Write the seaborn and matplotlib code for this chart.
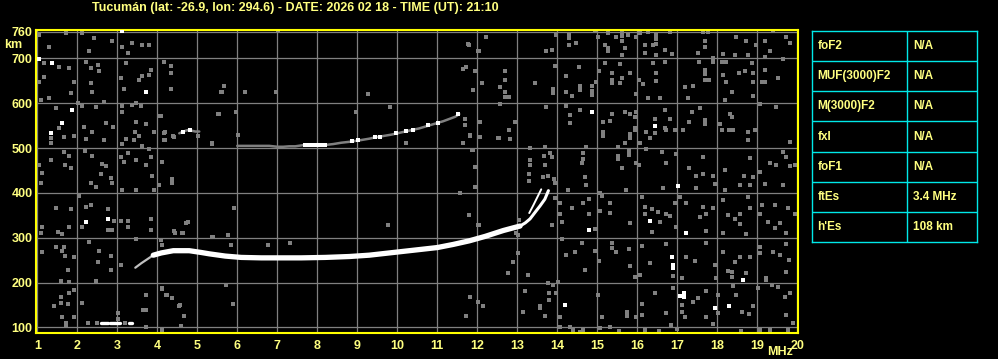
import matplotlib
matplotlib.use("Agg")
import matplotlib.pyplot as plt
import seaborn as sns
import pandas as pd

# ---------------- data ----------------
title = "Tucumán (lat: -26.9, lon: 294.6) - DATE: 2026 02 18 - TIME (UT): 21:10"
x_ticks = list(range(1, 21))
y_ticks = [100, 200, 300, 400, 500, 600, 700, 760]

# main (thick) echo trace, MHz / km
trace_f = [3.9, 4.1, 4.4, 4.8, 5.1, 5.3, 5.7, 6.1, 6.6, 7.0, 7.6, 8.2, 8.8, 9.3, 9.8,
           10.1, 10.5, 11.0, 11.4, 11.8, 12.2, 12.65, 12.9, 13.07]
trace_h = [261, 266, 271, 271, 267, 264, 259, 256, 255, 255, 255, 256, 258, 261, 266,
           269, 273, 278, 285, 293, 303, 316, 322, 326]
# thin upper end of the trace
tip_f = [13.07, 13.2, 13.32, 13.44, 13.57, 13.69, 13.78]
tip_h = [326, 333, 342, 356, 371, 386, 405]
# second thin branch near the cusp
branch_f = [13.3, 13.4, 13.5, 13.6]
branch_h = [355, 372, 390, 408]
# faint start of the trace
tail_f = [3.45, 3.6, 3.75, 3.9]
tail_h = [233, 243, 252, 261]

# upper (F) weak trace
f2_f = [4.55, 4.65, 4.75, 4.85, 4.95, 5.05]
f2_h = [533, 537, 540, 539, 537, 537]
f3_f = [6.0, 6.2, 6.45, 6.8, 7.0, 7.15, 7.3, 7.45, 7.6, 7.75, 7.9, 8.05, 8.2, 8.4, 8.6,
        8.8, 8.95, 9.1, 9.3, 9.45, 9.65, 9.85, 10.0, 10.2, 10.4, 10.55, 10.7, 10.85,
        11.0, 11.15, 11.3, 11.45, 11.55]
f3_h = [505, 505, 505, 505, 503, 503, 504, 504, 506, 508, 508, 508, 507, 509, 512,
        514, 516, 518, 521, 524, 527, 530, 533, 537, 541, 544, 548, 552,
        556, 560, 565, 570, 576]
fbright_f = [4.65, 4.82, 7.7, 7.8, 7.9, 8.0, 8.1, 8.2, 8.86, 9.03, 9.44, 9.57, 9.98,
             10.23, 10.4, 10.77, 11.03, 11.53]
fbright_h = [537, 540, 508, 508, 508, 508, 508, 508, 516, 518, 525, 525, 533,
             539, 540, 552, 557, 576]

# sporadic-E dashes near 110 km
es_start = [2.59, 2.83, 3.29]
es_end = [2.77, 3.06, 3.38]
es_height = [110, 110, 110]
es_faint_f = [2.50, 3.20]
es_faint_h = [110, 110]

# scattered gray noise (MHz, km)
noise_f = [
    1.05, 1.30, 1.72, 2.13, 2.43, 2.30, 2.88, 3.13, 3.38, 3.63, 3.80, 3.26, 1.55, 1.18, 1.80,
    2.22, 2.51, 2.55, 2.34, 3.22, 3.09, 3.18, 3.55, 3.63, 3.80, 3.84, 4.18, 4.34, 4.34, 4.34,
    5.59, 5.68, 1.05, 1.18, 1.93, 2.34, 2.38, 1.84, 1.30, 1.09, 1.47, 2.01, 2.13, 2.47, 2.68,
    3.13, 3.13, 3.38, 3.47, 3.59, 4.09, 5.55, 1.55, 1.34, 1.34, 1.68, 1.93, 2.22, 2.38, 2.73,
    2.90, 2.68, 2.18, 3.47, 3.45, 3.55, 3.72, 3.93, 3.12, 3.22, 3.43, 3.63, 4.18, 4.18, 4.43,
    5.38, 5.03, 1.05, 1.13, 1.34, 1.68, 1.80, 1.70, 1.84, 2.20, 2.38, 2.63, 2.73, 2.59, 2.84,
    3.09, 3.26, 3.18, 3.47, 3.72, 3.84, 3.80, 3.88, 4.13, 4.38,
    1.09, 1.47, 1.84, 2.05, 2.22, 2.34, 2.13, 2.78, 2.78, 2.93, 3.09, 3.28, 3.28, 3.47, 3.84,
    3.84, 4.05, 4.09, 4.13, 1.13, 1.09, 1.51, 1.63, 1.80, 1.47, 1.68, 1.63, 1.93, 1.70, 1.13,
    2.30, 2.55, 2.84, 2.84, 3.09, 1.76, 1.59, 1.80, 1.93, 1.80, 1.59, 1.59, 1.76, 1.43, 1.63,
    1.73, 1.73, 1.93, 2.12, 2.48, 2.51, 2.28, 3.03, 3.03, 3.73, 3.72, 3.72, 4.13, 4.24, 4.38,
    4.55, 4.68, 4.59, 4.13, 4.76, 4.43, 4.63, 5.38, 5.78, 5.84, 5.93, 5.73, 5.89, 4.38, 3.13,
    3.47, 3.93, 2.34, 2.88, 2.48, 2.88,
    9.78, 12.03, 12.90, 12.78, 13.28, 11.82, 12.03, 13.19, 13.15, 13.78, 13.57, 12.15, 11.73,
    5.90, 4.13, 4.23, 4.38, 4.57, 3.65, 7.32, 6.78, 5.78, 5.40, 4.73, 4.44, 4.65, 13.03, 12.98,
    5.61, 6.19, 6.98, 9.27, 9.83, 11.90, 12.53, 12.07, 11.69, 11.69, 11.82, 11.90, 10.23, 8.97,
    5.53, 5.38, 4.07, 4.19, 4.19, 4.40, 5.98, 6.02, 7.02, 11.77, 12.02, 12.23,
    12.23, 11.80, 12.05, 11.65, 11.73, 11.94, 12.69, 12.69, 12.13, 12.58, 12.69, 12.69, 12.80,
    13.44, 11.90, 12.58, 12.08, 12.94, 12.80, 11.83, 12.08, 12.55, 12.83, 11.65, 11.88, 11.94,
    13.33, 13.33, 13.33, 13.30, 13.30, 13.65, 13.67, 11.58, 11.94, 11.80, 12.05, 13.03, 13.05,
    13.98, 14.30, 14.30, 14.30, 14.48, 13.73, 13.88, 14.94, 15.03, 15.28, 15.28, 15.28, 15.47,
    15.63, 15.63, 15.63, 15.78, 15.98, 15.61, 15.69, 15.19, 16.07, 16.28, 16.48, 16.48, 16.48,
    16.19, 16.40, 16.19, 16.48, 16.82, 16.69, 16.86, 17.65, 17.78, 17.69, 17.69, 17.53, 17.90,
    18.15, 18.48, 18.73, 18.44, 18.78, 18.98, 19.19, 19.40, 19.73, 19.83, 19.32, 19.19, 13.94,
    14.23, 14.55, 13.90, 13.90, 14.23, 14.38, 14.58, 14.58, 14.88, 14.88, 14.88, 14.98, 15.05,
    15.19, 15.38, 15.38, 15.38, 15.58, 15.58, 15.63, 15.83, 15.98, 16.05, 16.15, 16.40, 16.48,
    16.48, 16.69, 16.28, 16.58, 17.19, 17.40, 17.28, 17.55, 17.69, 17.69, 17.69, 17.80, 17.90,
    18.11, 18.23, 18.15, 18.23, 18.55, 18.69, 18.88, 18.90, 18.90, 19.11, 19.19, 19.19, 19.53,
    19.65, 18.90, 18.36, 18.19, 13.73, 14.23, 14.58, 14.33, 14.33, 15.15, 15.15, 15.15, 15.33,
    15.36, 15.69, 15.83, 15.94, 15.94, 15.94, 15.98, 15.69, 15.83, 15.83, 16.08, 16.23, 16.32,
    16.44, 16.44, 16.69, 16.69, 16.73, 16.83, 16.94, 17.15, 17.29, 17.36, 17.58, 17.69, 17.69,
    18.07, 18.11, 18.32, 18.38, 18.30, 18.40, 18.78, 18.78, 18.94, 19.08, 19.48, 19.83, 14.72,
    14.65, 14.65, 14.63, 13.69, 13.82, 13.86, 13.69, 13.78, 13.92, 14.69, 15.53, 15.53, 15.53,
    15.80, 15.80, 15.61, 15.98, 16.05, 16.23, 16.61, 16.73, 16.98, 17.30, 17.48, 17.65, 17.65,
    17.90, 18.19, 18.67, 18.83, 18.90, 19.08, 19.32, 19.48, 19.72, 19.65, 19.83, 19.94,
    13.94, 14.28, 14.73, 15.07, 15.11, 15.72, 16.65, 17.48, 17.94, 18.19, 18.57, 18.82, 19.19,
    19.65, 13.94, 14.08, 14.08, 14.11, 14.36, 14.65, 14.80, 14.80, 14.94, 15.07, 15.32, 15.33,
    15.83, 16.11, 16.19, 16.19, 16.36, 16.36, 16.53, 16.57, 16.73, 16.82, 16.94, 16.98, 17.07,
    17.23, 17.57, 17.65, 17.73, 17.73, 17.90, 18.14, 18.14, 18.28, 18.44, 18.57, 18.57, 18.72,
    18.78, 18.82, 19.07, 19.13, 19.28, 19.44, 19.44, 19.57, 19.78, 19.73, 19.94, 13.86, 14.13,
    14.23, 14.44, 14.61, 14.69, 14.94, 15.05, 15.36, 15.38, 15.48, 15.80, 15.83, 15.94, 16.13,
    16.07, 16.33, 16.73, 16.90, 17.23, 17.44, 17.13, 17.73, 17.94, 17.97, 18.14, 18.28, 18.38,
    18.36, 18.44, 18.58, 18.73, 18.83, 19.07, 19.07, 19.23, 19.40, 19.58, 19.73, 19.73, 19.80,
    13.90, 13.98, 13.80, 13.80, 13.69, 14.08, 14.08, 14.32, 14.57, 14.65, 15.03, 15.13, 15.07,
    15.32, 15.75, 15.75, 15.98, 16.13, 16.13, 16.44, 16.73, 16.90, 16.84, 17.11, 17.13, 17.19,
    17.40, 17.53, 17.73, 17.73, 17.90, 18.03, 18.03, 18.40, 18.48, 18.63, 18.80, 18.90, 19.03,
    19.23, 19.36, 19.53, 19.73, 19.82, 19.69, 19.90, 19.32, 19.78, 13.57, 14.03, 14.40, 15.55,
    16.20, 16.55, 17.00, 18.60, 19.06,
]
noise_h = [
    752, 726, 756, 756, 745, 717, 740, 726, 735, 730, 730, 713, 682, 689, 678,
    693, 686, 673, 678, 689, 656, 633, 652, 661, 663, 674, 693, 683, 667, 633,
    626, 639, 648, 659, 648, 645, 626, 622, 611, 607, 590, 601, 594, 592, 604,
    594, 581, 596, 601, 594, 572, 576, 544, 522, 511, 524, 527, 520, 537, 557,
    546, 518, 548, 559, 537, 527, 554, 537, 509, 520, 518, 505, 533, 518, 524,
    509, 526, 462, 444, 473, 492, 482, 462, 455, 494, 482, 465, 460, 442, 433,
    481, 490, 470, 473, 462, 481, 497, 438, 470, 430,
    421, 366, 363, 392, 369, 373, 325, 365, 317, 338, 338, 338, 325, 296, 341,
    317, 418, 295, 284, 325, 310, 313, 308, 325, 280, 280, 271, 258, 259, 267,
    291, 271, 259, 229, 239, 228, 204, 202, 183, 176, 167, 154, 152, 147, 124,
    109, 103, 122, 155, 204, 246, 109, 131, 118, 172, 139, 101, 187, 172, 165,
    148, 125, 104, 94, 334, 316, 311, 302, 306, 284, 366, 194, 153, 421, 406,
    406, 406, 423, 423, 414, 317,
    328, 328, 246, 222, 217, 168, 157, 180, 135, 198, 142, 148, 125,
    153, 185, 172, 165, 150, 139, 289, 284, 306, 302, 332, 311, 311, 265, 310,
    626, 626, 626, 621, 591, 630, 522, 559, 566, 552, 529, 496, 511, 581,
    576, 511, 572, 537, 518, 526, 581, 529, 762, 732, 717, 749,
    749, 730, 717, 676, 680, 673, 671, 652, 645, 636, 626, 613, 615,
    645, 630, 598, 559, 559, 540, 527, 525, 522, 520, 511, 496, 457,
    500, 473, 462, 442, 427, 436, 482, 399, 414, 351, 328, 306, 339,
    752, 752, 745, 730, 734, 717, 720, 763, 749, 756, 723, 716, 749,
    760, 750, 740, 752, 749, 708, 723, 730, 758, 760, 752, 743, 732,
    730, 730, 713, 708, 760, 719, 711, 760, 760, 740, 726, 713, 700,
    710, 749, 738, 708, 708, 730, 738, 763, 749, 735, 717, 704, 683,
    661, 680, 633, 624, 626, 616, 639, 630, 639, 627, 619, 648, 671,
    689, 667, 652, 645, 688, 645, 656, 668, 621, 652, 643, 689, 667,
    650, 693, 611, 611, 636, 639, 611, 693, 674, 665, 652, 652, 693,
    693, 693, 663, 648, 667, 673, 689, 667, 648, 648, 648, 674, 656,
    698, 616, 626, 607, 591, 594, 585, 574, 555, 559, 537, 526, 561,
    576, 581, 577, 569, 545, 540, 581, 511, 532, 522, 512, 537, 522,
    564, 533, 585, 544, 540, 566, 540, 540, 559, 581, 589, 563, 554,
    554, 540, 577, 569, 540, 540, 537, 518, 540, 598, 591, 514, 502,
    488, 475, 466, 502, 490, 481, 462, 438, 430, 435, 502, 482, 475,
    494, 485, 455, 467, 462, 497, 492, 466, 487, 455, 438, 481, 442,
    438, 451, 438, 477, 436, 447, 466, 462, 481, 492, 460, 462,
    421, 406, 418, 399, 393, 406, 410, 412, 420, 406, 418, 418, 420,
    418, 388, 377, 354, 336, 366, 378, 386, 354, 319, 360, 377, 356,
    332, 390, 369, 354, 363, 313, 358, 336, 354, 349, 377, 325, 390,
    378, 346, 369, 353, 316, 366, 384, 310, 351, 341, 354, 331, 308,
    390, 366, 354, 373, 336, 373, 321, 332, 366, 310, 353, 328, 296,
    261, 269, 289, 228, 271, 249, 289, 276, 267, 274, 237, 213, 281,
    217, 244, 286, 214, 256, 249, 209, 289, 239, 209, 267, 226, 224,
    213, 246, 256, 222, 256, 280, 265, 209, 269, 261, 287, 224, 250,
    194, 176, 177, 162, 125, 124, 101, 101, 90, 94, 172, 122, 98,
    101, 135, 125, 124, 152, 127, 177, 131, 187, 105, 150, 135, 124,
    157, 165, 180, 124, 107, 172, 131, 192, 172, 135, 130, 147, 187,
    206, 194, 191, 128, 176, 168, 109, 94, 94, 147, 202, 94, 92,
    94, 92, 96, 92, 94,
]
# bright (white) noise pixels
spark_f = [1.05, 1.38, 1.88, 1.63, 1.34, 3.73, 2.23, 2.78, 3.13, 14.88, 16.44, 14.80,
           16.33, 17.03, 16.88, 16.90, 16.90, 17.23, 18.65, 14.19, 17.08, 17.18, 17.18,
           17.94, 18.29]
spark_h = [699, 689, 585, 557, 533, 626, 334, 341, 762, 581, 549, 317,
           338, 415, 258, 239, 232, 311, 205, 150, 170, 176, 167,
           144, 147]

# parameter table
table_labels = ["foF2", "MUF(3000)F2", "M(3000)F2", "fxI", "foF1", "ftEs", "h'Es"]
table_values = ["N/A", "N/A", "N/A", "N/A", "N/A", "3.4 MHz", "108 km"]

# ---------------- style ----------------
sns.set_style("dark", {"axes.facecolor": "black", "figure.facecolor": "black"})
plt.rcParams["font.family"] = ["Liberation Sans", "DejaVu Sans"]
plt.rcParams["font.weight"] = "bold"

TXT = "#ffff80"
FRAME = "#ffff00"
GRID = "#808080"
CYAN = "#00e8e8"

W, H = 998, 359
fig = plt.figure(figsize=(W / 100, H / 100), dpi=100, facecolor="black")

# plot area: x 36..798 px, y 30..333 px (from top)
ax = fig.add_axes([36 / W, (H - 333) / H, 762 / W, 303 / H])
ax.set_facecolor("black")

# noise
sns.scatterplot(x=noise_f, y=noise_h, ax=ax, marker="s", s=5, color=GRID,
                linewidth=0, zorder=2)
sns.scatterplot(x=spark_f, y=spark_h, ax=ax, marker="s", s=5, color="white",
                linewidth=0, zorder=3)

# upper weak trace
sns.lineplot(x=f2_f, y=f2_h, ax=ax, color=GRID, lw=1.8, sort=False, zorder=3)
sns.lineplot(x=f3_f, y=f3_h, ax=ax, color=GRID, lw=1.8, sort=False, zorder=3)
sns.scatterplot(x=fbright_f, y=fbright_h, ax=ax, marker="s", s=7, color="white",
                linewidth=0, zorder=4)

# main trace
sns.lineplot(x=tail_f, y=tail_h, ax=ax, color="#c0c0c0", lw=1.6, sort=False, zorder=4)
sns.lineplot(x=trace_f, y=trace_h, ax=ax, color="white", lw=3.8, sort=False, zorder=5)
sns.lineplot(x=tip_f, y=tip_h, ax=ax, color="white", lw=2.2, sort=False, zorder=5)
sns.lineplot(x=branch_f, y=branch_h, ax=ax, color="white", lw=1.4, sort=False, zorder=5)

# sporadic E dashes
for a, b, h in zip(es_start, es_end, es_height):
    sns.lineplot(x=[a, b], y=[h, h], ax=ax, color="white", lw=2.4, zorder=5)
sns.scatterplot(x=es_faint_f, y=es_faint_h, ax=ax, marker="s", s=8, color=GRID,
                linewidth=0, zorder=4)

ax.set_xlim(0.9675, 20.02)
ax.set_ylim(87.3, 763.6)
ax.set_xticks(x_ticks)
ax.set_yticks(y_ticks)
ax.set_xticklabels([str(v) for v in x_ticks])
ax.set_yticklabels([str(v) for v in y_ticks])
ax.tick_params(axis="both", length=0, colors=TXT, labelsize=9)
ax.tick_params(axis="x", pad=5)
ax.tick_params(axis="y", pad=2.5)
for lab in ax.get_xticklabels() + ax.get_yticklabels():
    lab.set_fontweight("bold")
    lab.set_color(TXT)
ax.grid(True, color=GRID, lw=0.9, zorder=1)
ax.set_axisbelow(True)
ax.set_xlabel("")
ax.set_ylabel("")
for sp in ax.spines.values():
    sp.set_color(FRAME)
    sp.set_linewidth(1.5)
    sp.set_visible(True)

fig.text(13 / W, 1 - 45 / H, "km", color=TXT, fontsize=9, fontweight="bold",
         ha="center", va="center")
fig.text(780 / W, 1 - 352 / H, "MHz", color=TXT, fontsize=9, fontweight="bold",
         ha="center", va="center")
fig.text(295 / W, 1 - 8 / H, title, color=TXT, fontsize=9, fontweight="bold",
         ha="center", va="center")

# parameter table
tx0, tx1, ty0, ty1 = 812.3, 977.3, 30.7, 242.3
tab = fig.add_axes([tx0 / W, (H - ty1) / H, (tx1 - tx0) / W, (ty1 - ty0) / H])
tab.set_facecolor("black")
tab.set_xlim(0, tx1 - tx0)
tab.set_ylim(len(table_labels), 0)
tab.set_xticks([])
tab.set_yticks([])
for sp in tab.spines.values():
    sp.set_color(CYAN)
    sp.set_linewidth(1.0)
    sp.set_visible(True)
for i in range(1, len(table_labels)):
    tab.axhline(i, color=CYAN, lw=1.0)
tab.axvline(95, color=CYAN, lw=1.0)
for i, (lab, val) in enumerate(zip(table_labels, table_values)):
    tab.text(5, i + 0.5, lab, color=TXT, fontsize=8.5, fontweight="bold",
             ha="left", va="center")
    tab.text(100.5, i + 0.5, val, color=TXT, fontsize=8.5, fontweight="bold",
             ha="left", va="center")

fig.savefig("out.png", dpi=100, facecolor="black")
